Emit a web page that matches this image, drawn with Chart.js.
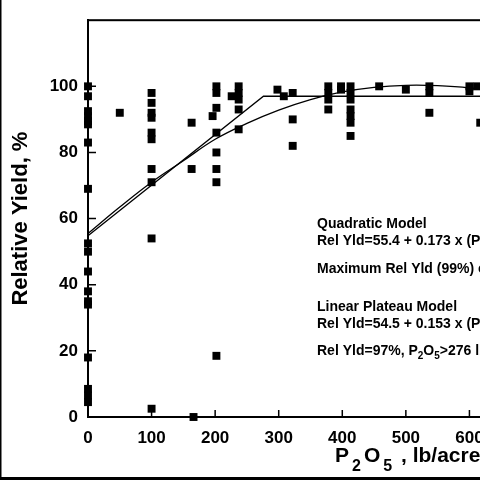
<!DOCTYPE html>
<html>
<head>
<meta charset="utf-8">
<script src="https://cdn.jsdelivr.net/npm/chart.js@4.4.1/dist/chart.umd.min.js"></script>
<style>
  html, body { margin: 0; padding: 0; background: #fff; }
  #wrap { position: relative; width: 480px; height: 480px; overflow: hidden; background: #fff; }
  #chart { position: absolute; left: 0; top: 0; }
</style>
</head>
<body>
<div id="wrap"><canvas id="chart" width="540" height="480"></canvas></div>
<script>
// ── Observed relative yields (P2O5 rate, lb/acre  /  relative yield, %) ──
const obsRate = [
  0, 0, 0, 0, 0, 0, 0, 0, 0, 0, 0, 0, 0, 0, 0, 0, 0, 0,
  50,
  100, 100, 100, 100, 100, 100, 100, 100, 100, 100,
  163, 163, 166,
  196,
  202, 202, 202, 202, 202, 202, 202, 202,
  226,
  237, 237, 237, 237, 237,
  298, 308,
  322, 322, 322,
  378, 378, 378, 378,
  398, 398,
  413, 413, 413, 413, 413, 413, 413,
  458, 500,
  537, 537, 537,
  600, 600, 612, 617
];
const obsYield = [
  100, 97, 92.5, 91, 89.5, 88.5, 83, 69, 52.5, 50, 44, 38, 35, 34, 18, 8.5, 6.5, 4.5,
  92,
  98, 95, 92, 90.5, 86, 84, 75, 71, 54, 2.5,
  89, 75, 0,
  91,
  100, 98, 93.5, 86, 80, 75, 71, 18.5,
  97,
  100, 98, 96, 93, 87,
  99, 97,
  98, 90, 82,
  100, 98, 96, 93,
  100, 99,
  100, 98, 96, 93, 91, 89, 85,
  100, 99,
  100, 98, 92,
  100, 98.5, 100, 89
];

// ── Fitted models ──
const quadRate  = [0, 50, 100, 150, 200, 250, 300, 350, 400, 450, 500, 550, 600, 650, 700];
const quadYield = [55.5, 63.5, 71, 77.5, 84, 88.8, 92.8, 96, 98.3, 99.7, 100.3, 100.2, 99.5, 98, 96];
const plateauRate  = [0, 276, 700];
const plateauYield = [54.8, 97, 97];

// ── Axis ticks (700 lies beyond the visible edge) ──
const xTickValues = [0, 100, 200, 300, 400, 500, 600];
const yTickValues = [0, 20, 40, 60, 80, 100];

const FONT = "'Liberation Sans', Arial, Helvetica, sans-serif";

// text pieces: [text, isSubscript]
const notes = [
  { y: 228, parts: [['Quadratic Model', false]] },
  { y: 245, parts: [['Rel Yld=55.4 + 0.173 x (P', false], ['2', true], ['O', false], ['5', true], [') - 0.000172 x (P', false], ['2', true], ['O', false], ['5', true], [')', false]] },
  { y: 273, parts: [['Maximum Rel Yld (99%) occurs at 503 lb P', false], ['2', true], ['O', false], ['5', true], ['/acre', false]] },
  { y: 311, parts: [['Linear Plateau Model', false]] },
  { y: 328, parts: [['Rel Yld=54.5 + 0.153 x (P', false], ['2', true], ['O', false], ['5', true], [')', false]] },
  { y: 355, parts: [['Rel Yld=97%, P', false], ['2', true], ['O', false], ['5', true], ['>276 lb/acre', false]] }
];

function drawParts(ctx, parts, x, y, size, subSize, subDrop, gap) {
  parts.forEach(([txt, sub]) => {
    ctx.font = `bold ${sub ? subSize : size}px ${FONT}`;
    ctx.fillText(txt, x, sub ? y + subDrop : y);
    x += ctx.measureText(txt).width + gap;
  });
}

const decorations = {
  id: 'decorations',
  afterDraw(chart) {
    const { ctx, chartArea: a, scales: { x, y } } = chart;
    ctx.save();
    ctx.strokeStyle = '#000';
    ctx.fillStyle = '#000';

    // plot frame
    ctx.lineWidth = 2;
    ctx.strokeRect(a.left, a.top, a.right - a.left, a.bottom - a.top);

    // inward tick marks
    ctx.lineWidth = 1.5;
    ctx.beginPath();
    yTickValues.forEach(v => {
      const py = y.getPixelForValue(v);
      ctx.moveTo(a.left, py);
      ctx.lineTo(a.left + 8, py);
    });
    xTickValues.forEach(v => {
      const px = x.getPixelForValue(v);
      ctx.moveTo(px, a.bottom);
      ctx.lineTo(px, a.bottom - 7);
    });
    ctx.stroke();

    // annotations
    ctx.textAlign = 'left';
    ctx.textBaseline = 'alphabetic';
    notes.forEach(n => drawParts(ctx, n.parts, 317, n.y, 14, 10, 4, 0));

    // x-axis title with subscripts
    drawParts(ctx, [['P', false], ['2', true], ['O', false], ['5', true], [' , lb/acre', false]],
      335, 462, 21, 16, 9, 3);

    // outer image border (left and bottom)
    ctx.fillRect(0, 0, 1.5, 480);
    ctx.fillRect(0, 477, 540, 3);
    ctx.restore();
  }
};

new Chart(document.getElementById('chart'), {
  type: 'scatter',
  data: {
    datasets: [
      {
        type: 'line',
        label: 'Quadratic model',
        data: quadRate.map((r, i) => ({ x: r, y: quadYield[i] })),
        borderColor: '#000',
        borderWidth: 1.3,
        pointRadius: 0,
        tension: 0.4,
        fill: false,
      },
      {
        type: 'line',
        label: 'Linear plateau model',
        data: plateauRate.map((r, i) => ({ x: r, y: plateauYield[i] })),
        borderColor: '#000',
        borderWidth: 1.3,
        pointRadius: 0,
        tension: 0,
        fill: false,
      },
      {
        label: 'Observed',
        data: obsRate.map((r, i) => ({ x: r, y: obsYield[i] })),
        pointStyle: 'rect',
        pointRadius: 5.6,
        backgroundColor: '#000',
        borderWidth: 0,
      }
    ]
  },
  options: {
    responsive: false,
    animation: false,
    clip: false,
    layout: { padding: { top: 5, right: 7, left: 0, bottom: 0 } },
    plugins: { legend: { display: false }, tooltip: { enabled: false } },
    scales: {
      x: {
        type: 'linear',
        min: 0,
        max: 700,
        afterBuildTicks: s => { s.ticks = xTickValues.map(v => ({ value: v })); },
        afterFit: s => { s.height = 63; },
        grid: { display: false, drawTicks: false },
        border: { color: '#000', width: 2 },
        ticks: { padding: 11, color: '#000', font: { family: FONT, size: 17, weight: 'bold' } },
      },
      y: {
        min: 0,
        max: 120,
        afterBuildTicks: s => { s.ticks = yTickValues.map(v => ({ value: v })); },
        afterFit: s => { s.width = 88; },
        grid: { display: false, drawTicks: false },
        border: { color: '#000', width: 2 },
        ticks: { padding: 10, color: '#000', font: { family: FONT, size: 17, weight: 'bold' } },
        title: {
          display: true,
          text: 'Relative Yield, %',
          color: '#000',
          padding: { top: 8, bottom: 0 },
          font: { family: FONT, size: 22, weight: 'bold' },
        },
      }
    }
  },
  plugins: [decorations]
});
</script>
</body>
</html>
